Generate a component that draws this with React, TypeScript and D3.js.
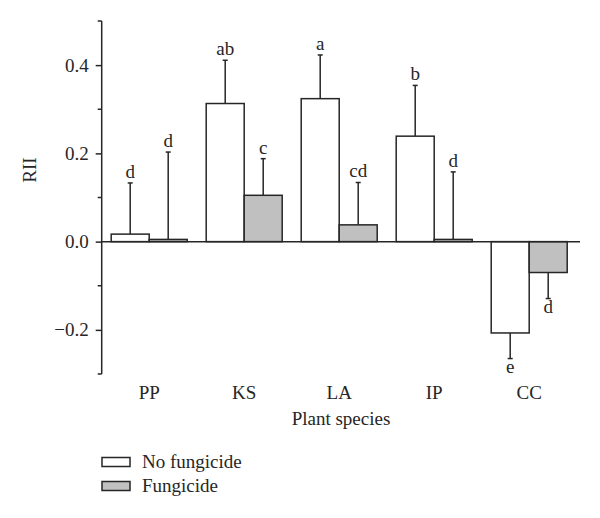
import React, { useEffect, useRef } from "react";
import * as d3 from "d3";

const species = ["PP", "KS", "LA", "IP", "CC"];
const treatments = ["No fungicide", "Fungicide"];
const noFungicide = [0.017, 0.313, 0.324, 0.239, -0.207];
const noFungicideErr = [0.116, 0.098, 0.099, 0.115, 0.058];
const fungicide = [0.005, 0.105, 0.038, 0.005, -0.07];
const fungicideErr = [0.198, 0.083, 0.096, 0.153, 0.059];
const noFungicideLetters = ["d", "ab", "a", "b", "e"];
const fungicideLetters = ["d", "c", "cd", "d", "d"];
const yTicks = [-0.2, 0, 0.2, 0.4];
const yMinorTicks = [-0.3, -0.1, 0.1, 0.3, 0.5];

const FONT = "'Liberation Serif', 'Times New Roman', serif";
const INK = "#262626";
const fills = ["#ffffff", "#c0c0c0"];
const FS = "19px";

export default function App() {
	const svgRef = useRef<SVGSVGElement>(null);

	useEffect(() => {
		const svg = d3.select(svgRef.current);
		svg.selectAll("*").remove();

		const axisX = 101.7;
		const y = d3.scaleLinear().domain([-0.3, 0.5]).range([374, 21]);
		const x = d3
			.scaleBand()
			.domain(species)
			.range([axisX, axisX + 475])
			.paddingInner(0.2)
			.paddingOuter(0.1);
		const xInner = d3.scaleBand().domain(treatments).range([0, x.bandwidth()]);

		const rows = species.flatMap((s, i) => [
			{ s, t: treatments[0], v: noFungicide[i], e: noFungicideErr[i], l: noFungicideLetters[i], fill: fills[0] },
			{ s, t: treatments[1], v: fungicide[i], e: fungicideErr[i], l: fungicideLetters[i], fill: fills[1] },
		]);

		const g = svg.append("g").style("font-family", FONT).attr("fill", INK);

		// error bars (drawn behind bars)
		const cx = (d) => (x(d.s) as number) + (xInner(d.t) as number) + xInner.bandwidth() / 2;
		const tip = (d) => (d.v >= 0 ? y(d.v + d.e) : y(d.v - d.e));
		g.selectAll(".err")
			.data(rows)
			.enter()
			.append("line")
			.attr("x1", cx)
			.attr("x2", cx)
			.attr("y1", (d) => y(d.v))
			.attr("y2", tip)
			.attr("stroke", INK)
			.attr("stroke-width", 1.5);
		g.selectAll(".cap")
			.data(rows)
			.enter()
			.append("line")
			.attr("x1", (d) => cx(d) - 2.5)
			.attr("x2", (d) => cx(d) + 2.5)
			.attr("y1", tip)
			.attr("y2", tip)
			.attr("stroke", INK)
			.attr("stroke-width", 1.5);

		// bars
		g.selectAll(".bar")
			.data(rows)
			.enter()
			.append("rect")
			.attr("x", (d) => (x(d.s) as number) + (xInner(d.t) as number))
			.attr("width", xInner.bandwidth())
			.attr("y", (d) => y(Math.max(0, d.v)))
			.attr("height", (d) => Math.abs(y(d.v) - y(0)))
			.attr("fill", (d) => d.fill)
			.attr("stroke", INK)
			.attr("stroke-width", 1.5);

		// significance letters
		g.selectAll(".letter")
			.data(rows)
			.enter()
			.append("text")
			.attr("x", cx)
			.attr("y", (d) => (d.v >= 0 ? tip(d) - 5 : tip(d) + 14))
			.attr("text-anchor", "middle")
			.style("font-size", FS)
			.text((d) => d.l);

		// zero line
		g.append("line")
			.attr("x1", axisX)
			.attr("x2", 580)
			.attr("y1", y(0))
			.attr("y2", y(0))
			.attr("stroke", INK)
			.attr("stroke-width", 1.5);

		// y axis
		const yAxis = g
			.append("g")
			.attr("transform", `translate(${axisX},0)`)
			.call(
				d3
					.axisLeft(y)
					.tickValues(yTicks)
					.tickSize(6)
					.tickPadding(7)
					.tickFormat((d) => (+d < 0 ? "\u2212" : "") + Math.abs(+d).toFixed(1))
			);
		yAxis
			.append("g")
			.selectAll("line")
			.data(yMinorTicks)
			.enter()
			.append("line")
			.attr("x1", -4)
			.attr("x2", 0)
			.attr("y1", (d) => y(d))
			.attr("y2", (d) => y(d))
			.attr("stroke", INK)
			.attr("stroke-width", 1.5);
		yAxis.select(".domain").attr("d", `M0,${y(0.5)}V${y(-0.3)}`).attr("stroke", INK).attr("stroke-width", 1.5);
		yAxis.selectAll(".tick line").attr("stroke", INK).attr("stroke-width", 1.5);
		yAxis
			.selectAll(".tick text")
			.attr("fill", INK)
			.style("font-family", FONT)
			.style("font-size", FS);

		// x labels
		g.selectAll(".xlab")
			.data(species)
			.enter()
			.append("text")
			.attr("x", (d) => (x(d) as number) + x.bandwidth() / 2)
			.attr("y", 399)
			.attr("text-anchor", "middle")
			.style("font-size", FS)
			.text((d) => d);

		g.append("text")
			.attr("x", 341)
			.attr("y", 425)
			.attr("text-anchor", "middle")
			.style("font-size", FS)
			.text("Plant species");

		g.append("text")
			.attr("transform", `translate(36,170) rotate(-90)`)
			.attr("text-anchor", "middle")
			.style("font-size", FS)
			.text("RII");

		// legend
		const legend = g
			.selectAll(".legend")
			.data(treatments)
			.enter()
			.append("g")
			.attr("transform", (d, i) => `translate(102,${457.5 + i * 24})`);
		legend
			.append("rect")
			.attr("width", 28)
			.attr("height", 9)
			.attr("fill", (d, i) => fills[i])
			.attr("stroke", INK)
			.attr("stroke-width", 1.5);
		legend
			.append("text")
			.attr("x", 40)
			.attr("y", 10)
			.style("font-size", FS)
			.text((d) => d);
	}, []);

	return (
		<div style={{ width: 600, height: 518, margin: -8 }}>
			<svg ref={svgRef} width={600} height={518} style={{ display: "block", background: "#fff" }}></svg>
		</div>
	);
}
